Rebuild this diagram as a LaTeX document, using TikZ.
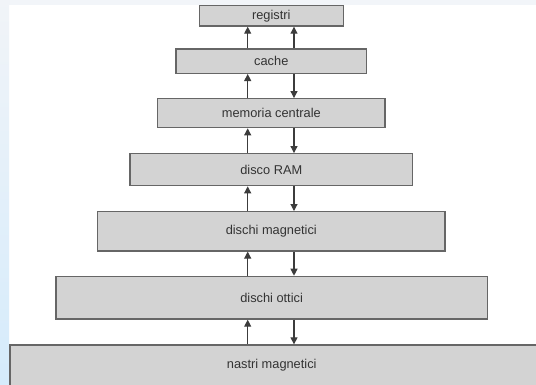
\documentclass[tikz,border=0pt]{standalone}
\usepackage{fontspec}
\setmainfont{Liberation Sans}
\usetikzlibrary{arrows.meta}
\definecolor{boxfill}{HTML}{D3D3D3}
\definecolor{boxline}{HTML}{666666}
\definecolor{arrcol}{HTML}{3C3C3C}
\definecolor{txtcol}{HTML}{333333}
\definecolor{stripTop}{HTML}{F1F4F8}
\definecolor{stripBot}{HTML}{D5EBFB}
\definecolor{topband}{HTML}{F2F5F9}
\begin{document}
\begin{tikzpicture}[x=1pt,y=-1pt,
  box/.style={draw=boxline,fill=boxfill,line width=1.3pt,rectangle,inner sep=0pt,
    text=txtcol,font=\fontsize{12.8}{14}\selectfont},
  lbl/.style={inner sep=0pt,text=txtcol,font=\fontsize{12.8}{14}\selectfont},
  arr/.style={draw=arrcol,line width=1.1pt,-{Triangle[length=7pt,width=7pt]}}]
\useasboundingbox (0,0) rectangle (536,384);
\clip (0,0) rectangle (536,384);
\fill[white] (0,0) rectangle (536,384);
\fill[topband] (0,0) rectangle (536,5);
\shade[top color=stripTop,bottom color=stripBot] (0,0) rectangle (9,384);
% boxes
\node[box,minimum width=144pt,minimum height=20.3pt] (reg) at (271.3,15.9) {registri};
\node[box,minimum width=190.7pt,minimum height=24.3pt] (cache) at (271.3,61.2) {cache};
\node[box,minimum width=227.3pt,minimum height=29pt] (mem) at (271.3,113.2) {memoria centrale};
\node[box,minimum width=282.7pt,minimum height=32pt] (ram) at (271.3,169.7) {disco RAM};
\node[box,minimum width=347.3pt,minimum height=39.3pt] (mag) at (271.3,231.3) {dischi magnetici};
\node[box,minimum width=431.3pt,minimum height=42.7pt] (ott) at (271.6,297.7) {dischi ottici};
\node[box,minimum width=550pt,minimum height=42pt] (nas) at (285,366) {};
\node[lbl] (nastxt) at (271.7,365.5) {nastri magnetici};
% arrow columns
\coordinate (upx) at (247.7,0);
\coordinate (dnx) at (294,0);
% up arrows
\draw[arr] (cache.north -| upx) -- (reg.south -| upx);
\draw[arr] (mem.north -| upx) -- (cache.south -| upx);
\draw[arr] (ram.north -| upx) -- (mem.south -| upx);
\draw[arr] (mag.north -| upx) -- (ram.south -| upx);
\draw[arr] (ott.north -| upx) -- (mag.south -| upx);
\draw[arr] (nas.north -| upx) -- (ott.south -| upx);
% right column
\draw[arr] (cache.north -| dnx) -- (reg.south -| dnx);
\draw[arr] (cache.south -| dnx) -- (mem.north -| dnx);
\draw[arr] (mem.south -| dnx) -- (ram.north -| dnx);
\draw[arr] (ram.south -| dnx) -- (mag.north -| dnx);
\draw[arr] (mag.south -| dnx) -- (ott.north -| dnx);
\draw[arr] (ott.south -| dnx) -- (nas.north -| dnx);
\end{tikzpicture}
\end{document}
